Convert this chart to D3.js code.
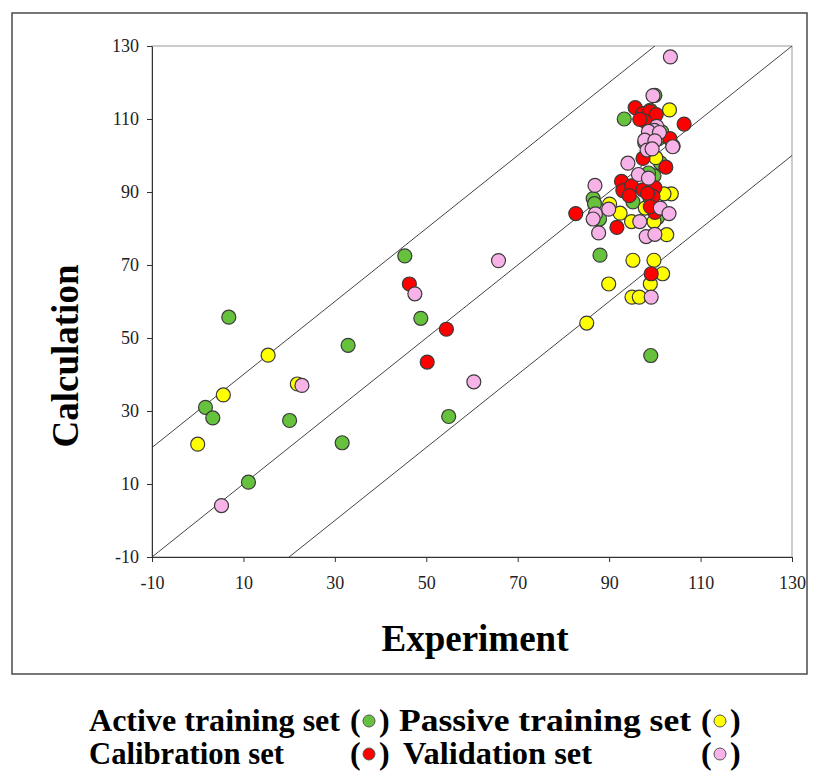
<!DOCTYPE html>
<html>
<head>
<meta charset="utf-8">
<script src="https://cdn.jsdelivr.net/npm/d3@7"></script>
<style>
  body { margin: 0; background: #fff; }
  svg { display: block; }
  .tick text { font-family: "Liberation Serif", "Times New Roman", serif; font-size: 18px; fill: #222; }
  .tick line { stroke: #333; }
  .domain { stroke: #333; }
  .lab { font-family: "Liberation Serif", "Times New Roman", serif; font-weight: bold; fill: #000; }
</style>
</head>
<body>
<script>
// data (Experiment, Calculation)
const activeTraining = [
  [6.8, 55.7], [1.7, 31.0], [3.3, 28.1], [11.1, 10.5], [20.1, 27.4], [31.6, 21.3],
  [32.9, 48.0], [45.3, 72.5], [48.8, 55.4], [54.9, 28.5], [99.1, 45.2], [88.0, 72.7],
  [93.3, 110.0], [86.5, 88.2], [86.8, 86.8], [87.9, 82.6], [95.2, 87.3], [99.8, 94.4],
  [98.6, 95.2], [100.8, 104.6], [104.0, 102.6], [101.2, 98.0], [100.0, 116.5],
  [99.0, 88.0], [101.5, 106.5], [97.8, 103.5], [100.6, 83.0]
];
const passiveTraining = [
  [0.0, 20.9], [5.6, 34.4], [15.4, 45.3], [21.8, 37.4], [85.1, 54.1], [89.9, 64.8],
  [95.2, 71.3], [99.8, 71.3], [101.7, 67.6], [99.0, 64.8], [95.0, 61.2], [96.6, 61.2],
  [103.2, 112.5], [103.6, 89.5], [102.6, 78.3], [90.1, 86.7], [92.4, 84.2], [94.9, 81.9],
  [99.8, 81.9], [97.9, 85.6], [100.6, 105.0], [100.2, 99.4], [99.0, 112.4], [100.2, 90.0],
  [102.0, 89.5]
];
const calibration = [
  [46.3, 64.8], [54.4, 52.4], [50.2, 43.4], [82.7, 84.1], [91.7, 80.3], [99.2, 67.6],
  [106.4, 108.6], [95.7, 113.1], [97.4, 111.5], [98.9, 112.1], [100.3, 111.2], [97.8, 109.4],
  [96.7, 109.9], [103.3, 104.6], [97.4, 99.2], [102.4, 96.8], [92.7, 92.9], [93.0, 90.4],
  [94.9, 91.7], [94.4, 89.0], [97.4, 90.6], [100.0, 91.2], [99.6, 88.8], [100.0, 84.4],
  [98.4, 89.6], [99.0, 86.0]
];
const validation = [
  [5.2, 4.1], [22.8, 37.0], [47.5, 62.1], [60.4, 38.0], [65.8, 71.2], [103.4, 127.0],
  [99.6, 116.4], [100.4, 108.0], [99.9, 106.9], [98.6, 106.6], [101.0, 106.3], [97.8, 104.2],
  [100.0, 104.0], [98.3, 101.5], [99.4, 101.8], [103.9, 102.4], [94.1, 97.9], [96.4, 94.8],
  [98.6, 93.8], [86.9, 91.8], [87.0, 84.0], [86.5, 82.6], [87.7, 78.8], [89.9, 85.3],
  [96.7, 81.9], [98.1, 77.8], [100.0, 78.4], [101.2, 85.6], [103.1, 84.1], [99.2, 61.2]
];
const xTicks = [-10, 10, 30, 50, 70, 90, 110, 130];
const yTicks = [-10, 10, 30, 50, 70, 90, 110, 130];
const lineOffsets = [30, 0, -30];   // y = x + offset

const series = [
  {name: "Active training set", data: activeTraining, color: "#66c23c"},
  {name: "Passive training set", data: passiveTraining, color: "#ffff00"},
  {name: "Calibration set", data: calibration, color: "#ff0000"},
  {name: "Validation set", data: validation, color: "#f7b3e8"}
];

const W = 816, H = 778;
const plot = {left: 152, right: 792, top: 46, bottom: 557};
const R = 7;

const svg = d3.select("body").append("svg")
  .attr("width", W)
  .attr("height", H);

// outer frame
svg.append("rect")
  .attr("x", 12).attr("y", 13)
  .attr("width", 795).attr("height", 661)
  .attr("fill", "none")
  .attr("stroke", "#555")
  .attr("stroke-width", 1.6);

const x = d3.scaleLinear().domain([-10, 130]).range([plot.left, plot.right]);
const y = d3.scaleLinear().domain([-10, 130]).range([plot.bottom, plot.top]);

// plot box (top/right grey)
svg.append("rect")
  .attr("x", plot.left).attr("y", plot.top)
  .attr("width", plot.right - plot.left).attr("height", plot.bottom - plot.top)
  .attr("fill", "none")
  .attr("stroke", "#aaa")
  .attr("stroke-width", 1.2);

svg.append("defs").append("clipPath").attr("id", "clip")
  .append("rect")
  .attr("x", plot.left).attr("y", plot.top)
  .attr("width", plot.right - plot.left).attr("height", plot.bottom - plot.top);

// reference lines y = x + offset
const lg = svg.append("g").attr("clip-path", "url(#clip)");
lineOffsets.forEach(function(off) {
  lg.append("line")
    .attr("x1", x(-10)).attr("y1", y(-10 + off))
    .attr("x2", x(130)).attr("y2", y(130 + off))
    .attr("stroke", "#444")
    .attr("stroke-width", 1);
});

// axes
svg.append("g")
  .attr("transform", "translate(0," + plot.bottom + ")")
  .call(d3.axisBottom(x).tickValues(xTicks).tickFormat(d => String(d))
    .tickSize(5).tickPadding(14).tickSizeOuter(0));

svg.append("g")
  .attr("transform", "translate(" + plot.left + ",0)")
  .call(d3.axisLeft(y).tickValues(yTicks).tickFormat(d => String(d))
    .tickSize(5).tickPadding(8).tickSizeOuter(0));

// points
const pg = svg.append("g");
series.forEach(function(s) {
  pg.selectAll(null)
    .data(s.data)
    .enter()
    .append("circle")
    .attr("cx", d => x(d[0]))
    .attr("cy", d => y(d[1]))
    .attr("r", R)
    .attr("fill", s.color)
    .attr("stroke", "#3a3a3a")
    .attr("stroke-width", 1.2);
});

// axis titles
svg.append("text")
  .attr("class", "lab")
  .attr("x", 475)
  .attr("y", 651)
  .attr("text-anchor", "middle")
  .style("font-size", "37px")
  .text("Experiment");

svg.append("text")
  .attr("class", "lab")
  .attr("transform", "translate(78,356) rotate(-90)")
  .attr("text-anchor", "middle")
  .style("font-size", "37px")
  .text("Calculation");

// legend: two rows, two columns, markers inside parentheses
const legendRows = [[series[0], series[1]], [series[2], series[3]]];
const nameX = [[89, 399], [89, 403]];
const nameW = [[251, 292], [195, 189]];
const parenX = [350, 701];
legendRows.forEach(function(row, i) {
  const by = 731 + i * 33;
  row.forEach(function(s, j) {
    svg.append("text")
      .attr("class", "lab")
      .attr("x", nameX[i][j])
      .attr("y", by)
      .attr("textLength", nameW[i][j])
      .attr("lengthAdjust", "spacingAndGlyphs")
      .style("font-size", "32px")
      .text(s.name);
    svg.append("text")
      .attr("class", "lab")
      .attr("x", parenX[j])
      .attr("y", by)
      .style("font-size", "32px")
      .text("(");
    svg.append("circle")
      .attr("cx", parenX[j] + 19)
      .attr("cy", by - 10)
      .attr("r", 6)
      .attr("fill", s.color)
      .attr("stroke", "#555")
      .attr("stroke-width", 1);
    svg.append("text")
      .attr("class", "lab")
      .attr("x", parenX[j] + 29)
      .attr("y", by)
      .style("font-size", "32px")
      .text(")");
  });
});
</script>
</body>
</html>
